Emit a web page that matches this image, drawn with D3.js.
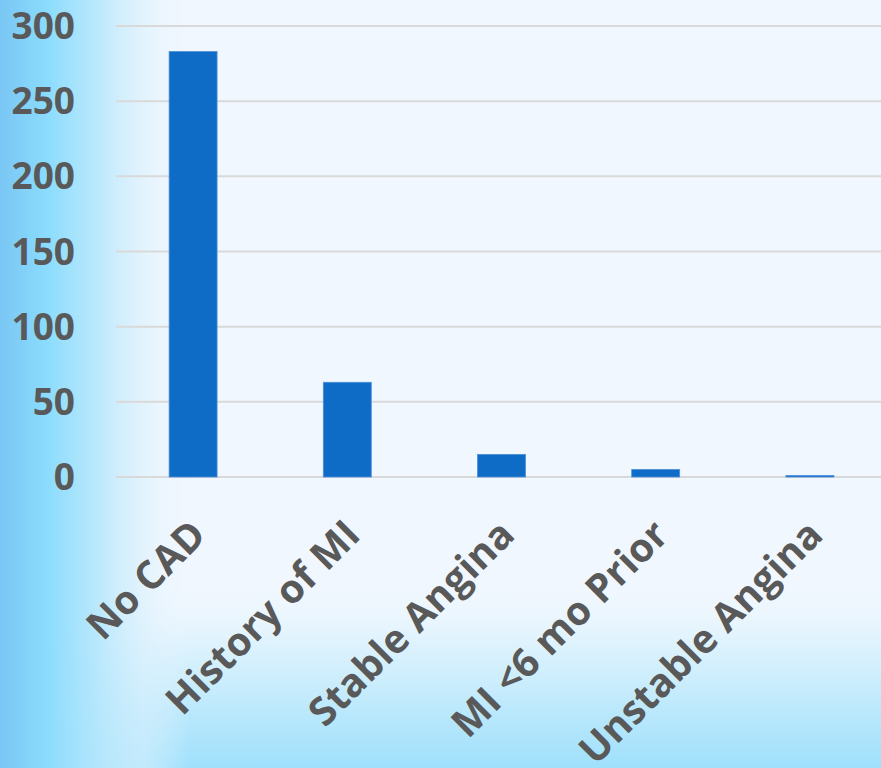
<!DOCTYPE html>
<html><head><meta charset="utf-8">
<script src="https://cdn.jsdelivr.net/npm/d3@7"></script>
<style>html,body{margin:0;padding:0;background:#f0f7fe;}svg{display:block;}</style>
</head><body>
<svg id="chart" width="881" height="768"></svg>
<script>
const categories = ["No CAD", "History of MI", "Stable Angina", "MI <6 mo Prior", "Unstable Angina"];
const values = [283, 63, 15, 5, 1];
const yTicks = [0, 50, 100, 150, 200, 250, 300];

const W = 881, H = 768;
const svg = d3.select("#chart");
const defs = svg.append("defs");

const gB = defs.append("linearGradient").attr("id","gb").attr("x1",0).attr("y1",0).attr("x2",0).attr("y2",1);
[[0,"#f0f7fe",0],[0.77,"#eaf6fd",0],[0.84,"#d8f1fd",0.8],[0.92,"#bde9fc",1],[1,"#9fe0fc",1]].forEach(s=>gB.append("stop").attr("offset",s[0]).attr("stop-color",s[1]).attr("stop-opacity",s[2]));
const gL = defs.append("linearGradient").attr("id","gl").attr("x1",0).attr("y1",0).attr("x2",1).attr("y2",0);
[[0,"#7ac6f4",1],[0.25,"#8bdcfd",1],[0.5,"#b2e6fc",0.9],[0.75,"#d8f0fd",0.6],[1,"#f0f7fe",0]].forEach(s=>gL.append("stop").attr("offset",s[0]).attr("stop-color",s[1]).attr("stop-opacity",s[2]));

svg.append("rect").attr("width",W).attr("height",H).attr("fill","#f0f7fe");
svg.append("rect").attr("width",W).attr("height",H).attr("fill","url(#gb)");
svg.append("rect").attr("width",190).attr("height",H).attr("fill","url(#gl)");

const y = d3.scaleLinear().domain([0,300]).range([477,26]);
const x = d3.scaleBand().domain(categories).range([116,887]).paddingInner(0.689).paddingOuter(0.3445);

const font = "'Open Sans', 'DejaVu Sans', sans-serif";

const yAxis = d3.axisLeft(y).tickValues(yTicks).tickSize(0).tickPadding(0);
const gy = svg.append("g").attr("transform","translate(75,0)").call(yAxis);
gy.select(".domain").remove();
gy.selectAll("text").attr("fill","#595959").attr("font-family",font).attr("font-weight","bold").attr("font-size",37).attr("dy","0.34em").attr("text-anchor","end");

svg.append("g").selectAll("line").data(yTicks).join("line")
  .attr("x1",116).attr("x2",W).attr("y1",d=>y(d)).attr("y2",d=>y(d))
  .attr("stroke","#d9d9d9").attr("stroke-width",2);

svg.append("g").selectAll("rect").data(values).join("rect")
  .attr("x",(d,i)=>x(categories[i])).attr("width",x.bandwidth())
  .attr("y",d=>y(d)).attr("height",d=>y(0)-y(d))
  .attr("fill","#0f6cc6").attr("stroke","#4a90d9").attr("stroke-width",0.8);

const xAxis = d3.axisBottom(x).tickSize(0).tickPadding(0);
const gx = svg.append("g").call(xAxis);
gx.select(".domain").remove();
gx.selectAll(".tick").attr("transform",d=>`translate(${x(d)+x.bandwidth()/2+15},537)`);
gx.selectAll("text").attr("fill","#595959").attr("font-family",font).attr("font-weight","bold").attr("font-size",39.5)
  .attr("text-anchor","end").attr("dy",0).attr("y",0).attr("transform","rotate(-45)");
</script>
</body></html>
